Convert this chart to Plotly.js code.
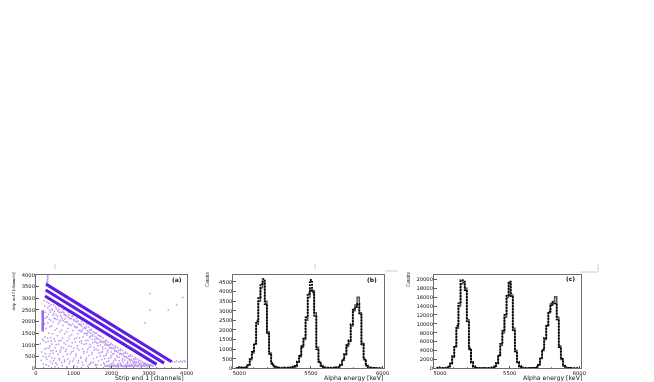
<!DOCTYPE html>
<html><head><meta charset="utf-8">
<script src="https://cdn.plot.ly/plotly-3.0.1.min.js"></script>
<style>html,body{margin:0;padding:0;background:#fff}#c{width:654px;height:382px;filter:blur(0.4px)}</style>
</head><body><div id="c"></div>
<script>
// ---------- Panel (a) data ----------
const bandTopX = [265, 3600];
const bandTopY = [3600, 280];
const bandMidX = [257, 3400];
const bandMidY = [3345, 220];
const bandLowX = [239, 3200];
const bandLowY = [3090, 170];
const clusterX = [178, 172, 182, 176];
const clusterY = [1570, 1800, 2150, 2480];
const spikeX = [295, 310, 300, 320, 305, 315, 290, 310];
const spikeY = [3660, 3720, 3780, 3840, 3900, 3960, 3700, 3620];
const tailX = [3620, 3680, 3730, 3790, 3840, 3880, 3930, 3960];
const tailY = [290, 270, 310, 280, 300, 270, 320, 290];
const scatterPoints = [
[120,1050],[150,700],[175,1250],[140,330],[190,180],[210,2900],[230,2650],[245,2400],[260,2150],[225,1900],[270,1700],[240,1350],[255,1100],[280,860],[250,620],[290,390],[270,150],
[320,2950],[340,2780],[310,2600],[360,2480],[330,2300],[355,2100],[315,1950],[370,1780],[340,1500],[390,1320],[320,1150],[365,950],[395,740],[345,510],[380,290],[335,90],
[430,2850],[470,2700],[420,2550],[490,2420],[445,2270],[510,2120],[460,1980],[415,1820],[500,1640],[440,1480],[480,1260],[425,1040],[515,880],[455,640],[495,420],[430,210],[505,60],
[560,2750],[600,2640],[540,2530],[620,2400],[575,2210],[645,2050],[590,1900],[550,1700],[630,1560],[570,1390],[610,1180],[535,1010],[655,790],[585,600],[625,350],[555,160],
[690,2620],[730,2500],[670,2380],[750,2290],[700,2120],[770,1990],[720,1830],[680,1640],[760,1470],[705,1290],[745,1090],[675,900],[785,720],[715,500],[755,280],[695,110],
[820,2480],[860,2380],[800,2250],[880,2150],[835,1980],[900,1860],[850,1700],[810,1560],[890,1380],[830,1180],[870,960],[805,800],[915,610],[845,400],[885,190],[825,70],
[950,2340],[990,2230],[935,2130],[1010,2040],[965,1900],[1040,1760],[980,1620],[945,1430],[1025,1250],[960,1090],[1005,870],[940,700],[1055,520],[975,300],[1020,120],
[1080,2130],[1120,2010],[1070,1990],[1150,1890],[1095,1760],[1170,1610],[1110,1480],[1075,1300],[1160,1130],[1100,960],[1140,780],[1065,600],[1185,430],[1115,230],[1090,70],
[1210,2000],[1260,1890],[1200,1870],[1290,1750],[1230,1640],[1310,1500],[1250,1340],[1205,1170],[1280,1020],[1225,840],[1270,650],[1195,480],[1320,310],[1245,130],
[1340,1880],[1390,1770],[1330,1760],[1420,1640],[1360,1500],[1440,1370],[1380,1200],[1335,1050],[1410,890],[1355,700],[1400,550],[1325,370],[1450,200],[1375,90],
[1470,1660],[1520,1560],[1460,1640],[1550,1510],[1490,1380],[1570,1240],[1510,1090],[1465,930],[1540,770],[1485,590],[1530,420],[1455,260],[1580,120],
[1600,1500],[1650,1420],[1590,1500],[1680,1390],[1620,1260],[1700,1110],[1640,960],[1595,810],[1670,640],[1615,470],[1660,310],[1585,170],
[1730,1350],[1780,1300],[1720,1370],[1810,1150],[1750,1120],[1830,1000],[1770,840],[1725,680],[1800,520],[1745,380],[1790,230],[1840,100],[1880,110],[1920,90],
[1860,1200],[1910,1110],[1850,1140],[1940,1010],[1880,990],[1960,860],[1900,700],[1855,560],[1930,420],[1875,280],[1965,100],[2010,120],[2050,90],
[1990,1060],[2040,1000],[1980,1020],[2070,890],[2010,860],[2090,730],[2030,590],[1985,450],[2060,300],[2005,190],[2100,110],[2140,90],[2190,120],
[2120,950],[2170,880],[2110,890],[2200,770],[2140,740],[2220,610],[2160,470],[2115,340],[2190,210],[2240,100],[2280,120],[2330,90],
[2250,830],[2300,760],[2240,760],[2330,640],[2270,620],[2350,490],[2290,350],[2245,220],[2380,110],[2420,90],[2460,120],
[2380,700],[2430,630],[2370,640],[2460,520],[2400,490],[2480,370],[2420,240],[2510,110],[2560,90],[2610,120],
[2510,580],[2560,510],[2500,520],[2590,400],[2530,380],[2610,260],[2550,160],[2660,100],[2720,110],[2780,90],
[2640,450],[2690,390],[2630,400],[2720,300],[2660,270],[2740,170],[2830,100],[2900,120],[2960,90],
[2770,330],[2820,280],[2760,330],[2850,230],[2790,180],[2880,150],[3010,110],
[2900,210],[2950,180],[2890,220],[2980,150],[2930,130],[3050,130],
[3030,120],[3080,110],[3020,150],[3110,90],
[3026,3200],[3894,3030],[3733,2700],[3513,2490],[3026,2490],[2893,1950]
];
const extraPoints = [
[287,2833],[352,2652],[403,2711],[377,2391],[298,2207],[436,2483],[521,2617],[468,2333],[534,2279],[392,2046],[483,2151],[577,2453],[611,2518],[649,2267],[558,2083],[703,2411],[742,2366],[676,2191],[791,2287],[623,1987],[716,2033],[833,2203],[874,2279],[768,2107],[913,2121],[807,1953],[957,2217],[1003,2093],[866,1881],[1049,2011],[926,1833],[1093,1997],[1131,1893],[1017,1811],[1178,1851],[1066,1733],[1221,1787],[1273,1703],[1139,1627],[1318,1689],[1207,1563],[1367,1601],[1412,1543],[1283,1477],[1456,1497],[1349,1421],[1503,1439],[1557,1367],[1428,1309],[1603,1321],[1492,1233],[1648,1263],[1699,1211],[1561,1147],[1742,1169],[1633,1069],[1791,1103],[1837,1063],[1706,997],[1887,1013],[1769,921],[1933,957],[1981,893],[1844,851],[2027,849],[1912,773],[2083,799],[2129,727],[1993,693],[2177,691],[2063,627],[2233,639],[2281,587],[2147,539],[2326,533],[2213,477],[2379,487],[2427,433],[2297,409],[2473,397],[2359,351],[2521,349],[2569,317],[2439,291],[2617,293],[2503,247],[2663,247],[2711,229],[2587,207],[2759,211],[2641,167],
[203,1177],[231,811],[187,517],[263,479],[307,1287],[349,861],[407,1163],[371,623],[447,773],[419,447],[503,1151],[541,731],[467,327],[597,1033],[643,693],[521,229],[663,1187],[727,871],[613,417],[787,1029],[829,597],[683,253],[877,1273],[933,933],[763,349],[983,733],[1043,1117],[901,289],[1097,853],[1153,1293],[1003,421],[1213,1061],[1267,729],[1127,323],[1321,1193],[1373,817],[1231,247],[1431,1017],[1487,671],[1339,439],[1543,893],[1597,1103],[1413,167],[1651,773],[1709,531],[1519,243],[1767,709],[1821,413],[1627,137],[1873,623],[1929,311],[1733,133],[1987,533],[2041,217],[1817,179],[2097,413],[2153,161],[1969,147],[2207,327],[2261,157],[2073,127],[2317,271],[2369,151],[2183,83],[2431,179],[2489,143],[2297,73],[2543,131],[2599,213],[2393,67],[2653,141],[2707,103],[2491,79],[2801,133],[2857,177],[2591,61],[2923,167],[2977,137],[2687,77],[3057,127],[2777,63],[2871,83],[2949,71],
[1843,83],[1901,121],[1957,71],[2013,103],[2069,127],[2121,69],[2179,97],[2237,131],[2293,103],[2349,71],[2401,123],[2457,91],[2527,113],[2633,97],[2741,127],[2837,117]
];
const scatterX = scatterPoints.concat(extraPoints).map(p => p[0]);
const scatterY = scatterPoints.concat(extraPoints).map(p => p[1]);

// ---------- Panels (b), (c) data ----------
const binCenters = [
4975,4990,5005,5020,5035,5050,5065,5080,5095,5110,
5125,5140,5155,5170,5185,5200,5215,5230,5245,5260,
5275,5290,5305,5320,5335,5350,5365,5380,5395,5410,
5425,5440,5455,5470,5485,5500,5515,5530,5545,5560,
5575,5590,5605,5620,5635,5650,5665,5680,5695,5710,
5725,5740,5755,5770,5785,5800,5815,5830,5845,5860,
5875,5890,5905,5920,5935,5950,5965,5980,5995];
const bSolid = [
0,30,40,25,20,50,180,450,800,1250,
2300,3500,4200,4500,3500,1900,800,220,90,40,
20,20,25,30,20,25,30,70,130,320,
600,1100,1500,2500,3700,4100,4050,2900,1100,320,
140,70,40,25,20,20,25,40,70,170,
420,700,1150,1400,2200,3000,3300,3700,2900,1300,
450,130,60,30,20,10,0,0,0];
const bDots = [
0,40,50,20,30,60,200,480,850,1300,
2450,3650,4400,4650,3350,1800,750,260,80,50,
20,30,20,30,30,20,40,80,120,350,
640,1150,1600,2650,3900,4600,3950,2750,1000,350,
130,80,30,30,20,30,20,50,60,190,
450,750,1200,1450,2300,3050,3200,3350,2800,1250,
480,140,50,30,20,10,0,0,0];
const cSolid = [
0,100,80,50,60,130,400,1000,2500,4800,
9000,14000,19000,19300,18000,11000,4200,1500,350,120,
60,50,40,50,40,60,90,180,450,1100,
2800,5200,8000,11500,16000,19300,16500,9000,4000,1300,
400,180,90,50,40,40,50,90,200,800,
2200,4000,6500,9500,12500,14500,15000,16100,11500,5000,
2000,500,200,90,50,20,0,0,0];
const cDots = [
0,120,60,60,50,150,450,1100,2700,5100,
9500,14600,19800,19500,17600,10600,4500,1300,400,100,
70,40,50,40,50,70,100,200,500,1200,
3000,5500,8400,12000,16500,19500,16000,8600,3800,1400,
450,160,100,40,50,30,60,100,220,900,
2400,4200,6800,9800,12800,14300,14800,14600,11000,4800,
2100,550,180,100,40,20,0,0,0];

const aXTicks = [0,1000,2000,3000,4000];
const aYTicks = [0,500,1000,1500,2000,2500,3000,3500,4000];
const eTicks = [5000,5500,6000];
const bYTicks = [0,500,1000,1500,2000,2500,3000,3500,4000,4500];
const cYTicks = [0,2000,4000,6000,8000,10000,12000,14000,16000,18000,20000];

// ---------- Layout helpers ----------
const W = 654, H = 382;
const fx = p => p / W;
const fy = p => 1 - p / H;
const FONT = 'DejaVu Sans';
const PURPLE = '#5c1ee2', LIGHT = '#bb96f3';
const frame = '#6f6f6f';

function axis(domain, range, vals, extra) {
  return Object.assign({
    domain, range, tickmode: 'array', tickvals: vals, ticktext: vals.map(String),
    ticks: 'inside', ticklen: 2.5, tickwidth: 0.8, tickcolor: '#333',
    showline: true, mirror: true, linecolor: frame, linewidth: 1,
    showgrid: false, zeroline: false,
    tickfont: {family: FONT, size: 5.2, color: '#111'}, automargin: false
  }, extra || {});
}
function lbl(x, y, text, opts) {
  return Object.assign({xref:'paper', yref:'paper', x: fx(x), y: fy(y), text, showarrow:false,
    font:{family:FONT, size:6.2, color:'#111'}, xanchor:'center', yanchor:'middle'}, opts||{});
}
const stray = (x0,y0,x1,y1) => ({type:'line', xref:'paper', yref:'paper', x0:fx(x0), y0:fy(y0), x1:fx(x1), y1:fy(y1), line:{color:'#cfcfcf', width:1}});

const bandLine = {color: PURPLE, width: 3.1};
const minorX = d => ({dtick:d, ticks:'inside', ticklen:1.5, tickcolor:'#555', tickwidth:0.7});
const traces = [
  {x: scatterX, y: scatterY, mode:'markers', type:'scatter', marker:{symbol:'square', size:1.5, color:LIGHT}, xaxis:'x', yaxis:'y'},
  {x: spikeX, y: spikeY, mode:'markers', type:'scatter', marker:{symbol:'square', size:1.5, color:LIGHT}, xaxis:'x', yaxis:'y'},
  {x: tailX, y: tailY, mode:'markers', type:'scatter', marker:{symbol:'square', size:1.5, color:LIGHT}, xaxis:'x', yaxis:'y'},
  {x: clusterX, y: clusterY, mode:'lines', type:'scatter', line:{color:'#9868ee', width:2.6}, xaxis:'x', yaxis:'y'},
  {x: bandLowX, y: bandLowY, mode:'lines', type:'scatter', line:bandLine, xaxis:'x', yaxis:'y'},
  {x: bandMidX, y: bandMidY, mode:'lines', type:'scatter', line:bandLine, xaxis:'x', yaxis:'y'},
  {x: bandTopX, y: bandTopY, mode:'lines', type:'scatter', line:bandLine, xaxis:'x', yaxis:'y'},
  {x: binCenters, y: bSolid, mode:'lines', type:'scatter', line:{shape:'hvh', color:'#555', width:1.5}, xaxis:'x2', yaxis:'y2'},
  {x: binCenters, y: bDots, mode:'lines', type:'scatter', line:{shape:'hvh', color:'#000', width:1.9, dash:'1.8px,1.2px'}, xaxis:'x2', yaxis:'y2'},
  {x: binCenters, y: cSolid, mode:'lines', type:'scatter', line:{shape:'hvh', color:'#555', width:1.5}, xaxis:'x3', yaxis:'y3'},
  {x: binCenters, y: cDots, mode:'lines', type:'scatter', line:{shape:'hvh', color:'#000', width:1.9, dash:'1.8px,1.2px'}, xaxis:'x3', yaxis:'y3'}
];

const yDom = [fy(368.3), fy(274.7)];
const layout = {
  width: W, height: H, margin:{l:0,r:0,t:0,b:0}, showlegend:false,
  paper_bgcolor:'#fff', plot_bgcolor:'#fff', hovermode:false,
  xaxis: axis([fx(36), fx(186.7)], [0,4000], aXTicks, {minor:minorX(200), anchor:'y', ticklabelstandoff:-1}),
  yaxis: axis(yDom, [0,4000], aYTicks, {anchor:'x', ticklabelstandoff:-1}),
  xaxis2: axis([fx(233.3), fx(384)], [4958,6010], eTicks, {minor:minorX(100), anchor:'y2', ticklabelstandoff:-1}),
  yaxis2: axis(yDom, [0,4880], bYTicks, {anchor:'x2', ticklabelstandoff:-1}),
  xaxis3: axis([fx(434), fx(581.3)], [4957,6014], eTicks, {minor:minorX(100), anchor:'y3', ticklabelstandoff:-1}),
  yaxis3: axis(yDom, [0,21050], cYTicks, {anchor:'x3', ticklabelstandoff:-1}),
  annotations: [
    lbl(186, 378.3, 'Strip end 1 [channels]', {xanchor:'right'}),
    lbl(384.5, 378.3, 'Alpha energy [keV]', {xanchor:'right'}),
    lbl(584, 378.3, 'Alpha energy [keV]', {xanchor:'right'}),
    lbl(13, 291.5, 'strip end 2 [channels]', {textangle:-90, font:{family:'Liberation Sans Narrow', size:4.4, color:'#111'}}),
    lbl(207, 280, 'Counts', {textangle:-90, font:{family:'Liberation Sans Narrow', size:5.2, color:'#111'}}),
    lbl(408, 280, 'Counts', {textangle:-90, font:{family:'Liberation Sans Narrow', size:5.2, color:'#111'}}),
    lbl(176.5, 279, '(a)', {font:{family:FONT, size:6, color:'#111', weight:'bold'}}),
    lbl(371.5, 279, '(b)', {font:{family:FONT, size:6, color:'#111', weight:'bold'}}),
    lbl(570, 278.5, '(c)', {font:{family:FONT, size:6, color:'#111', weight:'bold'}})
  ],
  shapes: [stray(55,264,55,269), stray(315,264,315,269), stray(385,271,398,271), stray(580,272,598,272), stray(598,264,598,272)]
};
Plotly.newPlot('c', traces, layout, {displayModeBar:false, staticPlot:true});
</script></body></html>
